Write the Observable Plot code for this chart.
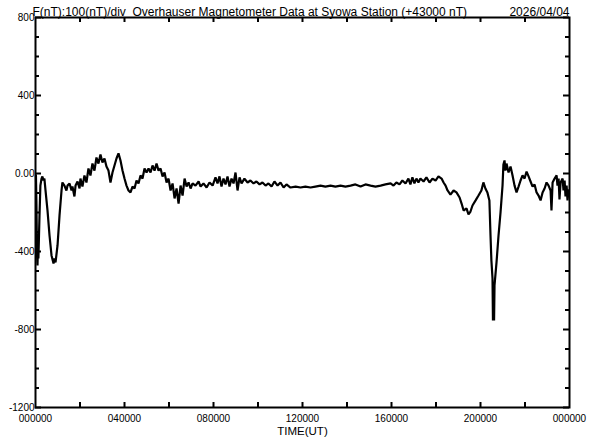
<!DOCTYPE html>
<html>
<head>
<meta charset="utf-8">
<script src="https://cdn.jsdelivr.net/npm/d3@7"></script>
<script src="https://cdn.jsdelivr.net/npm/@observablehq/plot@0.6"></script>
<style>
  html, body { margin: 0; padding: 0; background: #fff; }
  #chart { width: 592px; height: 440px; }
</style>
</head>
<body>
<div id="chart"></div>
<script>
const titleText = "F(nT):100(nT)/div  Overhauser Magnetometer Data at Syowa Station (+43000 nT)";
const dateText = "2026/04/04";
const xAxisTitle = "TIME(UT)";

const hours = [0.02,0.04,0.07,0.09,0.11,0.13,0.18,0.22,0.27,0.31,0.36,0.40,0.45,0.54,0.63,0.72,0.81,0.85,0.90,0.99,1.08,1.17,1.21,1.30,1.39,1.44,1.53,1.62,1.66,1.75,1.80,1.89,1.98,2.02,2.11,2.20,2.29,2.38,2.47,2.56,2.65,2.74,2.83,2.92,3.01,3.10,3.19,3.28,3.37,3.46,3.55,3.64,3.73,3.82,3.91,4.00,4.09,4.18,4.27,4.36,4.45,4.54,4.63,4.72,4.81,4.90,4.99,5.08,5.17,5.26,5.35,5.44,5.53,5.62,5.71,5.80,5.89,5.98,6.07,6.16,6.25,6.34,6.43,6.52,6.61,6.70,6.79,6.88,6.97,7.06,7.19,7.33,7.42,7.55,7.69,7.82,7.96,8.09,8.18,8.27,8.36,8.45,8.54,8.63,8.72,8.81,8.90,8.99,9.08,9.17,9.26,9.39,9.53,9.66,9.80,9.93,10.07,10.20,10.34,10.47,10.61,10.74,10.88,11.01,11.15,11.28,11.46,11.69,11.91,12.13,12.36,12.58,12.81,13.03,13.26,13.48,13.71,13.93,14.16,14.38,14.61,14.83,15.06,15.28,15.51,15.73,15.96,16.09,16.22,16.36,16.49,16.63,16.76,16.85,16.94,17.03,17.12,17.21,17.30,17.44,17.57,17.71,17.84,17.98,18.11,18.25,18.34,18.43,18.52,18.65,18.79,18.92,19.06,19.15,19.24,19.37,19.46,19.55,19.64,19.78,19.91,20.04,20.13,20.22,20.31,20.40,20.45,20.49,20.54,20.56,20.58,20.61,20.63,20.72,20.81,20.90,20.99,21.03,21.08,21.12,21.17,21.26,21.35,21.44,21.53,21.62,21.71,21.80,21.89,21.98,22.07,22.16,22.25,22.34,22.43,22.52,22.61,22.70,22.79,22.88,22.97,23.06,23.15,23.19,23.24,23.33,23.42,23.46,23.51,23.55,23.60,23.69,23.73,23.78,23.82,23.87,23.91,23.96];
const values = [-10,-138,-420,-472,-369,-436,-215,-62,-26,-15,-36,-26,-87,-190,-318,-420,-462,-436,-456,-369,-215,-87,-46,-62,-87,-62,-51,-87,-67,-118,-62,-41,-77,-26,-67,-10,-46,26,-10,51,15,82,51,97,56,77,36,15,-46,5,41,77,103,67,15,-26,-62,-87,-97,-67,-77,-36,-51,-10,-26,26,5,26,5,41,15,51,15,26,-15,5,-46,-26,-87,-51,-128,-77,-154,-62,-113,-26,-67,-46,-77,-51,-62,-41,-67,-51,-72,-46,-62,-20,-51,-15,-67,-26,-56,-15,-67,-26,-51,5,-87,-20,-51,-26,-46,-36,-51,-41,-56,-46,-62,-51,-67,-41,-62,-46,-72,-56,-72,-67,-72,-67,-72,-67,-62,-67,-62,-67,-62,-67,-62,-56,-67,-56,-62,-67,-62,-56,-51,-62,-46,-56,-36,-51,-26,-56,-20,-51,-26,-46,-26,-41,-20,-46,-26,-36,-15,-26,-46,-62,-87,-108,-87,-97,-123,-154,-190,-179,-210,-195,-164,-138,-113,-87,-46,-77,-97,-138,-318,-446,-538,-754,-600,-754,-574,-456,-318,-200,-62,46,67,15,51,5,36,-10,-62,-97,-67,-36,-10,-26,10,-15,-41,-67,-56,-97,-113,-138,-97,-77,-46,-62,-87,-190,-46,-26,-10,-62,-26,-133,-46,-26,-87,-36,-118,-62,-138,-87];

const yTicks = [800, 400, 0, -400, -800, -1200];
const yTickLabels = ["800", "400", "0.00", "-400", "-800", "-1200"];
const yMinorTicks = [700,600,500,300,200,100,-100,-200,-300,-500,-600,-700,-900,-1000,-1100];
const xTicks = [0, 4, 8, 12, 16, 20, 24];
const xTickLabels = ["000000", "040000", "080000", "120000", "160000", "200000", "000000"];
const xMinorTicks = [2, 4, 6, 8, 10, 12, 14, 16, 18, 20, 22];

const data = hours.map((h, i) => ({h, v: values[i]}));

const W = 592, H = 440, mT = 17, mB = 33, mL = 35, mR = 23;
const fw = W - mL - mR, fh = H - mT - mB;

const chart = Plot.plot({
  width: W, height: H,
  marginTop: mT, marginBottom: mB, marginLeft: mL, marginRight: mR,
  style: {fontFamily: "'Liberation Sans', Arial, sans-serif", fontSize: "10px", background: "#fff", color: "#000", overflow: "visible"},
  x: {domain: [0, 24]},
  y: {domain: [-1200, 800]},
  marks: [
    Plot.axisY({ticks: yTicks, tickSize: 0, tickPadding: 1, tickFormat: d => yTickLabels[yTicks.indexOf(d)], label: null, fontSize: 10}),
    Plot.axisX({ticks: xTicks, tickSize: 0, tickPadding: 7, tickFormat: d => xTickLabels[xTicks.indexOf(d)], label: null, fontSize: 10}),
    // inward ticks on left and right (major longer)
    Plot.tickY(yTicks, {y: d => d, insetRight: fw - 6, stroke: "#000", strokeWidth: 2}),
    Plot.tickY(yTicks, {y: d => d, insetLeft: fw - 6, stroke: "#000", strokeWidth: 2}),
    Plot.tickY(yMinorTicks, {y: d => d, insetRight: fw - 4, stroke: "#000", strokeWidth: 2}),
    Plot.tickY(yMinorTicks, {y: d => d, insetLeft: fw - 4, stroke: "#000", strokeWidth: 2}),
    // inward ticks on top and bottom
    Plot.tickX(xMinorTicks, {x: d => d, insetBottom: fh - 5, stroke: "#000", strokeWidth: 2}),
    Plot.tickX(xMinorTicks, {x: d => d, insetTop: fh - 5, stroke: "#000", strokeWidth: 2}),
    Plot.line(data, {x: "h", y: "v", stroke: "#000", strokeWidth: 2.2, strokeLinejoin: "miter"}),
    Plot.frame({stroke: "#000", strokeWidth: 2}),
    Plot.text([titleText], {frameAnchor: "top-left", textAnchor: "start", dx: -3, dy: -10, fontSize: 12}),
    Plot.text([dateText], {frameAnchor: "top-right", textAnchor: "end", dx: 0, dy: -10, fontSize: 12}),
    Plot.text([xAxisTitle], {frameAnchor: "bottom", dy: 27, fontSize: 11.5})
  ]
});
document.getElementById("chart").appendChild(chart);
</script>
</body>
</html>
